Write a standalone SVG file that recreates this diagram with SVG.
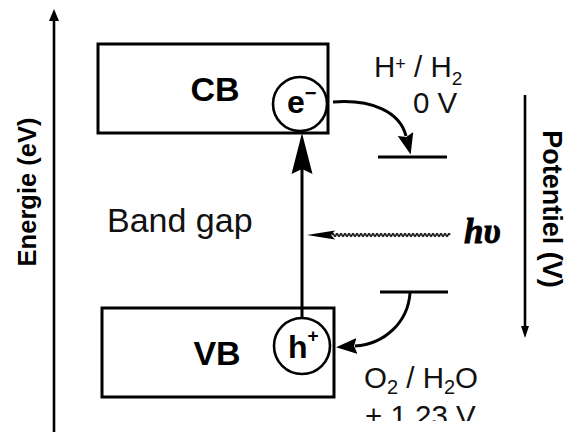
<svg xmlns="http://www.w3.org/2000/svg" width="567" height="432" viewBox="0 0 567 432">
<style>
.box{fill:none;stroke:#000;stroke-width:3}
.circ{fill:#fff;stroke:#000;stroke-width:2.6}
.ln{fill:none;stroke:#000;stroke-width:3}
.ax{fill:none;stroke:#000;stroke-width:2.6}
.bold{font-family:"Liberation Sans",Arial,sans-serif;font-weight:bold;fill:#000}
.reg{font-family:"Liberation Sans",Arial,sans-serif;fill:#111}
</style>
<defs>
<marker id="ah" markerUnits="userSpaceOnUse" markerWidth="24" markerHeight="20" refX="2" refY="8" orient="auto">
<path d="M0,0 L21,8 L0,16 L3,8 z" fill="#000"/>
</marker>
<clipPath id="clipB"><rect x="0" y="0" width="567" height="421"/></clipPath>
</defs>
<rect width="567" height="432" fill="#fff"/>

<g id="energy-axis">
<line class="ax" x1="54" y1="19" x2="54" y2="432"/>
<polygon points="54,9 49,21 59,21" fill="#000"/>
<text class="bold" font-size="25.5" text-anchor="middle" transform="translate(36,192) rotate(-90)">Energie (eV)</text>
</g>

<g id="potential-axis">
<line class="ax" x1="525" y1="95" x2="525" y2="328"/>
<polygon points="525,338 521,326 529,326" fill="#000"/>
<text class="bold" font-size="27" text-anchor="middle" transform="translate(543,209) rotate(90)">Potentiel (V)</text>
</g>

<g id="CB">
<rect class="box" x="98" y="44" width="230" height="89"/>
<text class="bold" font-size="34" text-anchor="middle" x="215" y="101">CB</text>
</g>

<g id="VB">
<rect class="box" x="102" y="308" width="232" height="89"/>
<text class="bold" font-size="34" text-anchor="middle" x="217" y="365">VB</text>
</g>

<g id="connectors">
<line class="ln" x1="302" y1="318" x2="302" y2="168"/>
<polygon points="302,133 312.5,174 302,169 291.5,174" fill="#000"/>
<path class="ln" d="M333,102 C372,99 400,112 406,136" marker-end="url(#ah)"/>
<path class="ln" d="M410,293 C408,322 385,344 355,346" marker-end="url(#ah)"/>
<path fill="none" stroke="#222" stroke-width="1.8" d="M450,235 q-1,-2.6 -2,0 t-2,0t-2,0t-2,0t-2,0t-2,0t-2,0t-2,0t-2,0t-2,0t-2,0t-2,0t-2,0t-2,0t-2,0t-2,0t-2,0t-2,0t-2,0t-2,0t-2,0t-2,0t-2,0t-2,0t-2,0t-2,0t-2,0t-2,0t-2,0t-2,0t-2,0t-2,0t-2,0t-2,0t-2,0t-2,0t-2,0t-2,0t-2,0t-2,0t-2,0t-2,0t-2,0t-2,0t-2,0t-2,0t-2,0t-2,0t-2,0t-2,0t-2,0t-2,0t-2,0t-2,0t-2,0t-2,0t-2,0t-2,0t-2,0"/>
<polygon points="307,235 335,230.5 331,235 335,239.5" fill="#000"/>
</g>

<g id="electron">
<circle class="circ" cx="300" cy="104" r="27"/>
<text class="bold" font-size="32" x="287" y="113">e<tspan font-size="20" dy="-13">−</tspan></text>
</g>

<g id="hole">
<circle class="circ" cx="302" cy="346" r="28"/>
<text class="bold" font-size="32" x="288" y="358">h<tspan font-size="19" dy="-16">+</tspan></text>
</g>

<g id="H-level">
<line class="ln" x1="378" y1="157" x2="447" y2="157"/>
<text class="reg" font-size="29.5" x="374" y="77">H<tspan font-size="18" dy="-7">+</tspan><tspan dy="7"> / H</tspan><tspan font-size="19" dy="8">2</tspan></text>
<text class="reg" font-size="29.5" x="413" y="113">0 V</text>
</g>

<g id="O-level">
<line class="ln" x1="380" y1="292" x2="448" y2="292"/>
<text class="reg" font-size="29.5" x="364" y="388">O<tspan font-size="20" dy="6">2</tspan><tspan dy="-6"> / H</tspan><tspan font-size="20" dy="6">2</tspan><tspan dy="-6">O</tspan></text>
<text class="reg" font-size="29.5" x="365" y="426" clip-path="url(#clipB)">+ 1.23 V</text>
</g>

<g id="labels">
<text class="reg" font-size="34" x="107" y="232">Band gap</text>
<text font-family="'Liberation Serif','Times New Roman',serif" font-weight="bold" font-style="italic" font-size="35" x="464" y="243" fill="#000" stroke="#000" stroke-width="0.8">hυ</text>
</g>
</svg>
